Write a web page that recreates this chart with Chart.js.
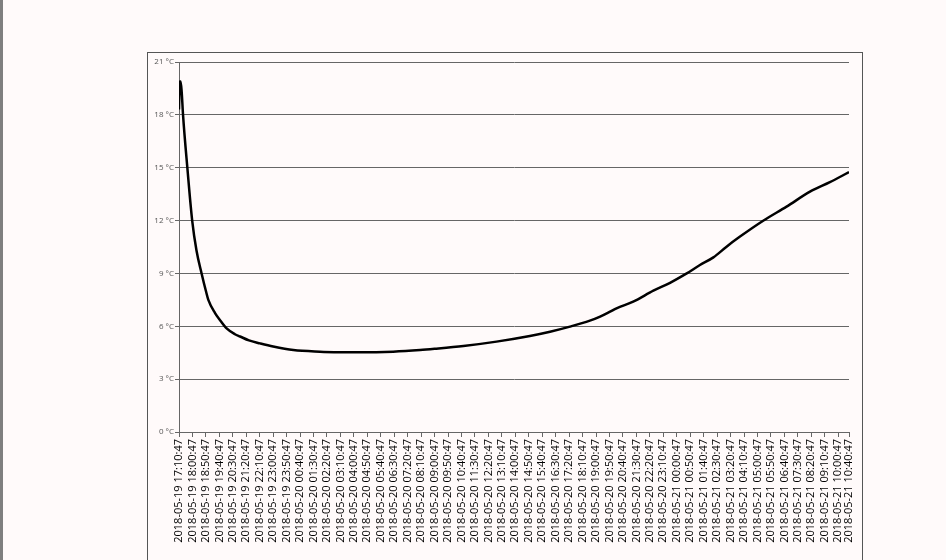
<!DOCTYPE html>
<html>
<head>
<meta charset="utf-8">
<script src="https://cdn.jsdelivr.net/npm/chart.js@4/dist/chart.umd.min.js"></script>
<style>
  html, body { margin:0; padding:0; background:#fffafa; width:946px; height:560px; overflow:hidden; }
  #bar { position:absolute; left:0; top:0; width:3px; height:560px; background:#7f7f7f; }
  #box { position:absolute; left:147px; top:52px; width:714px; height:600px; border:1px solid #555; }
  #wrap { position:absolute; left:0; top:0; width:946px; height:560px; }
</style>
</head>
<body>
<div id="bar"></div>
<div id="box"></div>
<div id="wrap"><canvas id="c" width="946" height="560"></canvas></div>
<script>
// Minutes after 2018-05-19 17:10:47
const sampleMinutes = [0,3,6,10,15,31,49,65,84,100,109,134,152,177,208,227,260,301,350,425,524,600,673,796,896,950,1057,1180,1304,1379,1453,1527,1565,1602,1626,1688,1763,1825,1887,1936,1986,2035,2085,2171,2258,2345,2419,2490];
const temperatures = [18.3,19.9,19.9,19.3,18.0,15.0,12.0,10.3,9.0,8.0,7.5,6.75,6.36,5.88,5.55,5.42,5.2,5.03,4.85,4.65,4.56,4.53,4.52,4.56,4.65,4.72,4.88,5.13,5.45,5.69,5.98,6.32,6.55,6.83,7.02,7.4,8.02,8.47,9.0,9.48,9.91,10.52,11.09,11.99,12.79,13.64,14.18,14.75];

const tickMinutes = [0,50,100,150,200,250,300,350,400,450,500,550,600,650,700,750,800,850,900,950,1000,1050,1100,1150,1200,1250,1300,1350,1400,1450,1500,1550,1600,1650,1700,1750,1800,1850,1900,1950,2000,2050,2100,2150,2200,2250,2300,2350,2400,2450,2490];
const tickLabels = [
"2018-05-19 17:10:47","2018-05-19 18:00:47","2018-05-19 18:50:47","2018-05-19 19:40:47","2018-05-19 20:30:47",
"2018-05-19 21:20:47","2018-05-19 22:10:47","2018-05-19 23:00:47","2018-05-19 23:50:47","2018-05-20 00:40:47",
"2018-05-20 01:30:47","2018-05-20 02:20:47","2018-05-20 03:10:47","2018-05-20 04:00:47","2018-05-20 04:50:47",
"2018-05-20 05:40:47","2018-05-20 06:30:47","2018-05-20 07:20:47","2018-05-20 08:10:47","2018-05-20 09:00:47",
"2018-05-20 09:50:47","2018-05-20 10:40:47","2018-05-20 11:30:47","2018-05-20 12:20:47","2018-05-20 13:10:47",
"2018-05-20 14:00:47","2018-05-20 14:50:47","2018-05-20 15:40:47","2018-05-20 16:30:47","2018-05-20 17:20:47",
"2018-05-20 18:10:47","2018-05-20 19:00:47","2018-05-20 19:50:47","2018-05-20 20:40:47","2018-05-20 21:30:47",
"2018-05-20 22:20:47","2018-05-20 23:10:47","2018-05-21 00:00:47","2018-05-21 00:50:47","2018-05-21 01:40:47",
"2018-05-21 02:30:47","2018-05-21 03:20:47","2018-05-21 04:10:47","2018-05-21 05:00:47","2018-05-21 05:50:47",
"2018-05-21 06:40:47","2018-05-21 07:30:47","2018-05-21 08:20:47","2018-05-21 09:10:47","2018-05-21 10:00:47",
"2018-05-21 10:40:47"];
const yTicks = [0,3,6,9,12,15,18,21];

const points = sampleMinutes.map((m,i)=>({x:m, y:temperatures[i]}));

new Chart(document.getElementById('c'), {
  type: 'line',
  data: { datasets: [{
    data: points,
    borderColor: '#000',
    borderWidth: 2.5,
    pointRadius: 0,
    fill: false,
    cubicInterpolationMode: 'monotone'
  }]},
  options: {
    responsive: false,
    animation: false,
    events: [],
    layout: { padding: { left: 0, top: 62, right: 97, bottom: 0 } },
    plugins: { legend: { display: false }, tooltip: { enabled: false } },
    scales: {
      x: {
        type: 'linear',
        min: 0, max: 2490,
        afterBuildTicks: s => { s.ticks = tickMinutes.map(v => ({value: v})); },
        afterFit: s => { s.height = 128; },
        grid: { drawOnChartArea: false, drawTicks: true, tickLength: 5, color: '#666' },
        border: { display: true, color: '#666', width: 1 },
        ticks: {
          autoSkip: false, maxRotation: 90, minRotation: 90, padding: 2,
          color: '#000',
          font: { family: 'Open Sans', size: 11 },
          callback: (v, i) => tickLabels[i]
        }
      },
      y: {
        min: 0, max: 21,
        afterBuildTicks: s => { s.ticks = yTicks.map(v => ({value: v})); },
        afterFit: s => { s.width = 179; },
        grid: { color: '#666', lineWidth: 1, drawTicks: true, tickLength: 4 },
        border: { display: true, color: '#666', width: 1 },
        ticks: {
          color: '#555', padding: 1,
          font: { family: 'Open Sans', size: 8 },
          callback: v => v + ' °C'
        }
      }
    }
  }
});
</script>
</body>
</html>
